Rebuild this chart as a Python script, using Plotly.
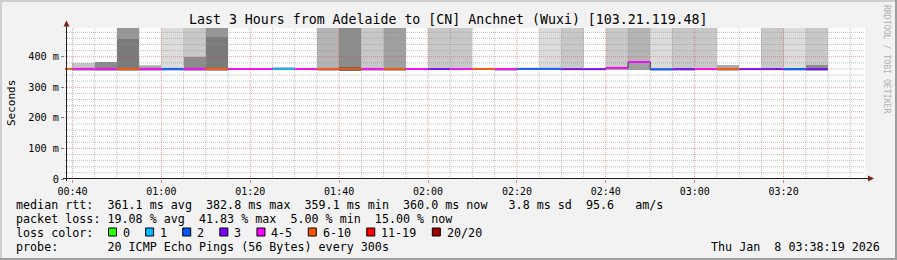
import plotly.graph_objects as go
import pandas as pd

# ---------------- data ----------------
DAY = "2026-01-08"
seg_start = ["00:35", "00:40", "00:45", "00:50", "00:55", "01:00", "01:05", "01:10", "01:15",
             "01:20", "01:25", "01:30", "01:35", "01:40", "01:45", "01:50", "01:55", "02:00",
             "02:05", "02:10", "02:15", "02:20", "02:25", "02:30", "02:35", "02:40", "02:45",
             "02:50", "02:55", "03:00", "03:05", "03:10", "03:15", "03:20", "03:25"]

median_ms = [360.2, 360.4, 360.3, 360.5, 360.0, 360.1, 360.3, 360.6, 360.0,
             359.8, 360.4, 360.0, 360.2, 361.0, 360.1, 360.3, 359.9, 359.8,
             360.0, 360.2, 359.6, 360.4, 360.4, 359.5, 359.4, 363.4, 382.8,
             359.1, 359.6, 359.8, 360.3, 359.5, 359.6, 359.9, 360.0]

loss_pct = [35, 25, 20, 35, 20, 10, 25, 35, 20,
            20, 5, 20, 30, 41.83, 25, 35, 20, 15,
            25, 30, 20, 10, 10, 15, 15, 20, 25,
            10, 15, 20, 30, 15, 15, 10, 15]

smoke_low_ms = [None, 356, 356, 356, 356, 356, 356, 356, 357,
                357, 357, 357, 356, 355, 356, 356, 357, 357,
                357, 357, 356, 357, 357, 357, 357, 357, 358,
                356, 356, 357, 356, 357, 357, 356, 355]
smoke_low_color = ["#bdbdbd", "#bdbdbd", "#a8a8a8", "#a0a0a0", "#b4b4b4", "#c8c8c8", "#a8a8a8", "#a0a0a0", "#d2d2d2",
                   "#d2d2d2", "#c8c8c8", "#d2d2d2", "#b4b4b4", "#6e6e6e", "#bdbdbd", "#a8a8a8", "#d2d2d2", "#c8c8c8",
                   "#c8c8c8", "#d2d2d2", "#c0c0c0", "#d2d2d2", "#c8c8c8", "#c8c8c8", "#d2d2d2", "#a8a8a8", "#a0a0a0",
                   "#c8c8c8", "#c8c8c8", "#c8c8c8", "#b4b4b4", "#d2d2d2", "#c8c8c8", "#c8c8c8", "#a0a0a0"]

smoke_top_ms = [None, 378, 382, 600, 374, 600, 600, 600, None,
                None, 364, None, 600, 600, 600, 600, None, 600,
                600, None, None, None, 600, 600, None, 600, 600,
                600, 600, 600, 373, None, 600, 600, 600]
smoke_top_color = ["#ffffff", "#c4c4c4", "#8c8c8c", "#969696", "#c8c8c8", "#dcdcdc", "#c8c8c8", "#969696", "#ffffff",
                   "#ffffff", "#c8c8c8", "#ffffff", "#b4b4b4", "#8c8c8c", "#c8c8c8", "#a0a0a0", "#ffffff", "#c8c8c8",
                   "#c8c8c8", "#ffffff", "#ffffff", "#ffffff", "#dcdcdc", "#c8c8c8", "#ffffff", "#c8c8c8", "#b4b4b4",
                   "#dcdcdc", "#c8c8c8", "#c8c8c8", "#aaaaaa", "#ffffff", "#c8c8c8", "#dcdcdc", "#c8c8c8"]

smoke_inner_ms = [None, None, None, 457, 370, None, 398, 465, None,
                  None, None, None, None, 364, None, None, None, None,
                  None, None, None, None, None, None, None, None, None,
                  None, None, None, None, None, None, None, 372]
smoke_inner_color = ["#7a7a7a", "#7a7a7a", "#7a7a7a", "#7a7a7a", "#a8a8a8", "#8c8c8c", "#8c8c8c", "#7a7a7a", "#7a7a7a",
                     "#7a7a7a", "#7a7a7a", "#7a7a7a", "#7a7a7a", "#5a5a5a", "#7a7a7a", "#7a7a7a", "#7a7a7a", "#7a7a7a",
                     "#7a7a7a", "#7a7a7a", "#7a7a7a", "#7a7a7a", "#7a7a7a", "#7a7a7a", "#7a7a7a", "#7a7a7a", "#7a7a7a",
                     "#7a7a7a", "#7a7a7a", "#7a7a7a", "#7a7a7a", "#7a7a7a", "#7a7a7a", "#7a7a7a", "#8c8c8c"]

loss_labels = ["0", "1", "2", "3", "4-5", "6-10", "11-19", "20/20"]
loss_upper = [0, 1, 2, 3, 5, 10, 19, 20]
loss_colors = ["#26ff00", "#00b8ff", "#0059ff", "#7e00ff", "#ff00ff", "#ff5500", "#ff0000", "#a00000"]

x_tick_labels = ["00:40", "01:00", "01:20", "01:40", "02:00", "02:20", "02:40", "03:00", "03:20"]
y_ticks_ms = [0, 100, 200, 300, 400]
y_tick_labels = ["0", "100 m", "200 m", "300 m", "400 m"]

title_text = "Last 3 Hours from Adelaide to [CN] Anchnet (Wuxi) [103.21.119.48]"
rtt_line = "median rtt:  361.1 ms avg  382.8 ms max  359.1 ms min  360.0 ms now   3.8 ms sd  95.6   am/s"
loss_line = "packet loss: 19.08 % avg  41.83 % max  5.00 % min  15.00 % now"
probe_line = "probe:       20 ICMP Echo Pings (56 Bytes) every 300s"
stamp_text = "Thu Jan  8 03:38:19 2026"
range_start = "00:38:19"
range_end = "03:38:19"

# ---------------- geometry ----------------
W, H = 897, 260
L, R, T, B = 65, 32, 28, 81
PW = W - L - R
PH = H - T - B
FONT = "DejaVu Sans Mono"


def px(x):
    return (x - L) / PW


def py(y):
    return (H - B - y) / PH


def nb(s):
    return s.replace(" ", "\u00a0")


starts = [pd.Timestamp(f"{DAY} {s}") for s in seg_start]
step = pd.Timedelta(minutes=5)
centers = [t + step / 2 for t in starts]
WIDTH_MS = step.total_seconds() * 1000
sec = lambda v: None if v is None else v / 1000.0

fig = go.Figure()

# lower smoke (below median)
fig.add_trace(go.Bar(
    x=centers, width=[WIDTH_MS] * len(centers),
    base=[sec(lo) for lo in smoke_low_ms],
    y=[None if lo is None else (m - lo) / 1000.0 for lo, m in zip(smoke_low_ms, median_ms)],
    marker=dict(color=smoke_low_color, line=dict(width=0)), hoverinfo="skip"))
# outer smoke
fig.add_trace(go.Bar(
    x=centers, width=[WIDTH_MS] * len(centers),
    base=[sec(m) for m in median_ms],
    y=[None if tp is None else (tp - m) / 1000.0 for tp, m in zip(smoke_top_ms, median_ms)],
    marker=dict(color=smoke_top_color, line=dict(width=0)), hoverinfo="skip"))
# inner darker smoke
fig.add_trace(go.Bar(
    x=centers, width=[WIDTH_MS] * len(centers),
    base=[sec(m) for m in median_ms],
    y=[None if ip is None else (ip - m) / 1000.0 for ip, m in zip(smoke_inner_ms, median_ms)],
    marker=dict(color=smoke_inner_color, line=dict(width=0)), hoverinfo="skip"))

# dark median step line
fig.add_trace(go.Scatter(
    x=starts + [starts[-1] + step], y=[sec(m) for m in median_ms] + [sec(median_ms[-1])],
    mode="lines", line=dict(color="#202020", width=1, shape="hv"), hoverinfo="skip"))


def bucket(pct):
    lost = round(pct * 20 / 100)
    for i, up in enumerate(loss_upper):
        if lost <= up:
            return i
    return len(loss_upper) - 1


for bi, col in enumerate(loss_colors):
    xs, ys = [], []
    for t, m, p in zip(starts, median_ms, loss_pct):
        if bucket(p) == bi:
            xs += [t, t + step, None]
            ys += [m / 1000.0, m / 1000.0, None]
    if xs:
        fig.add_trace(go.Scatter(x=xs, y=ys, mode="lines",
                                 line=dict(color=col, width=2), hoverinfo="skip"))

shapes = []
x0 = pd.Timestamp(f"{DAY} {range_start}")
x1 = pd.Timestamp(f"{DAY} {range_end}")
major_x = [pd.Timestamp(f"{DAY} {s}") for s in x_tick_labels]
minor_x = [t for t in pd.date_range(f"{DAY} 00:40", f"{DAY} 03:35", freq="5min") if t not in major_x]
GRID = "rgba(143,143,143,0.55)"
MGRID = "rgba(222,79,79,0.55)"
for t in minor_x:
    shapes.append(dict(type="line", xref="x", yref="paper", x0=t, x1=t, y0=0, y1=1,
                       line=dict(color=GRID, width=1, dash="1px,1px"), layer="above"))
ymax_ms = 494
for v in range(20, ymax_ms, 20):
    if v % 100:
        shapes.append(dict(type="line", xref="paper", yref="y", x0=0, x1=1, y0=v / 1000, y1=v / 1000,
                           line=dict(color=GRID, width=1, dash="1px,1px"), layer="above"))
for t in major_x:
    shapes.append(dict(type="line", xref="x", yref="paper", x0=t, x1=t, y0=0, y1=1,
                       line=dict(color=MGRID, width=1, dash="1px,1px"), layer="above"))
for v in y_ticks_ms[1:]:
    shapes.append(dict(type="line", xref="paper", yref="y", x0=0, x1=1, y0=v / 1000, y1=v / 1000,
                       line=dict(color=MGRID, width=1, dash="1px,1px"), layer="above"))

# axes with arrows
AXIS = "#1f1f1f"
ARROW = "#801f1f"
shapes.append(dict(type="line", xref="paper", yref="paper", x0=px(63), x1=px(869), y0=py(178.5), y1=py(178.5),
                   line=dict(color=AXIS, width=1), layer="above"))
shapes.append(dict(type="line", xref="paper", yref="paper", x0=px(66.5), x1=px(66.5), y0=py(181), y1=py(25),
                   line=dict(color=AXIS, width=1), layer="above"))
shapes.append(dict(type="path", xref="paper", yref="paper",
                   path=f"M {px(63.5)},{py(26.5)} L {px(66.5)},{py(20.5)} L {px(69.5)},{py(26.5)} Z",
                   fillcolor=ARROW, line=dict(width=0), layer="above"))
shapes.append(dict(type="path", xref="paper", yref="paper",
                   path=f"M {px(868)},{py(175.5)} L {px(874)},{py(178.5)} L {px(868)},{py(181.5)} Z",
                   fillcolor=ARROW, line=dict(width=0), layer="above"))

# image bevel border
shapes.append(dict(type="rect", xref="paper", yref="paper", x0=px(0), x1=px(W), y0=py(0), y1=py(2),
                   fillcolor="#cecece", line=dict(width=0), layer="above"))
shapes.append(dict(type="rect", xref="paper", yref="paper", x0=px(0), x1=px(2), y0=py(0), y1=py(H),
                   fillcolor="#cecece", line=dict(width=0), layer="above"))
shapes.append(dict(type="rect", xref="paper", yref="paper", x0=px(0), x1=px(W), y0=py(H - 2), y1=py(H),
                   fillcolor="#9e9e9e", line=dict(width=0), layer="above"))
shapes.append(dict(type="rect", xref="paper", yref="paper", x0=px(W - 2), x1=px(W), y0=py(0), y1=py(H),
                   fillcolor="#9e9e9e", line=dict(width=0), layer="above"))

annotations = []


def txt(text, x, y, size, xanchor="left", color="#000000", angle=0):
    annotations.append(dict(text=nb(text), x=px(x), y=py(y), xref="paper", yref="paper",
                            xanchor=xanchor, yanchor="middle", showarrow=False, textangle=angle,
                            borderpad=0, borderwidth=0,
                            font=dict(family=FONT, size=size, color=color)))


txt(title_text, 448.5, 19.5, 13.25, xanchor="center")
txt("Seconds", 11, 103, 11, xanchor="center", angle=-90)
txt("RRDTOOL / TOBI OETIKER", 887, 59, 8.2, xanchor="center", color="#b0b0b0", angle=90)
LEG = 11.7
CH = 7.115
txt(rtt_line, 16, 204.5, LEG)
txt(loss_line, 16, 218.5, LEG)
txt("loss color:", 16, 232.5, LEG)
txt(probe_line, 16, 246.5, LEG)
txt(stamp_text, 880.5, 246.5, LEG, xanchor="right")

bx = 108.5
for lab, col in zip(loss_labels, loss_colors):
    shapes.append(dict(type="rect", xref="paper", yref="paper", x0=px(bx), x1=px(bx + 8), y0=py(236), y1=py(228),
                       fillcolor=col, line=dict(color="#000000", width=1), layer="above"))
    lx = bx + 14.5
    txt(lab, lx, 232.5, LEG)
    bx = lx + len(lab) * CH + 15.5

fig.update_layout(
    width=W, height=H,
    margin=dict(l=L, r=R, t=T, b=B, pad=0),
    paper_bgcolor="#f2f2f2", plot_bgcolor="#ffffff",
    barmode="overlay", bargap=0, showlegend=False,
    font=dict(family=FONT, size=10, color="#000000"),
    shapes=shapes, annotations=annotations,
    xaxis=dict(type="date", range=[x0, x1], showgrid=False, zeroline=False, showline=False,
               tickmode="array", tickvals=major_x, ticktext=x_tick_labels,
               ticks="outside", ticklen=3, tickcolor="#e08080",
               tickfont=dict(family=FONT, size=10, color="#000000")),
    yaxis=dict(range=[0, ymax_ms / 1000], showgrid=False, zeroline=False, showline=False,
               tickmode="array", tickvals=[v / 1000 for v in y_ticks_ms], ticktext=y_tick_labels,
               ticks="outside", ticklen=3, tickcolor="#808080",
               tickfont=dict(family=FONT, size=10.2, color="#000000")),
)

fig.write_html("out.html")
